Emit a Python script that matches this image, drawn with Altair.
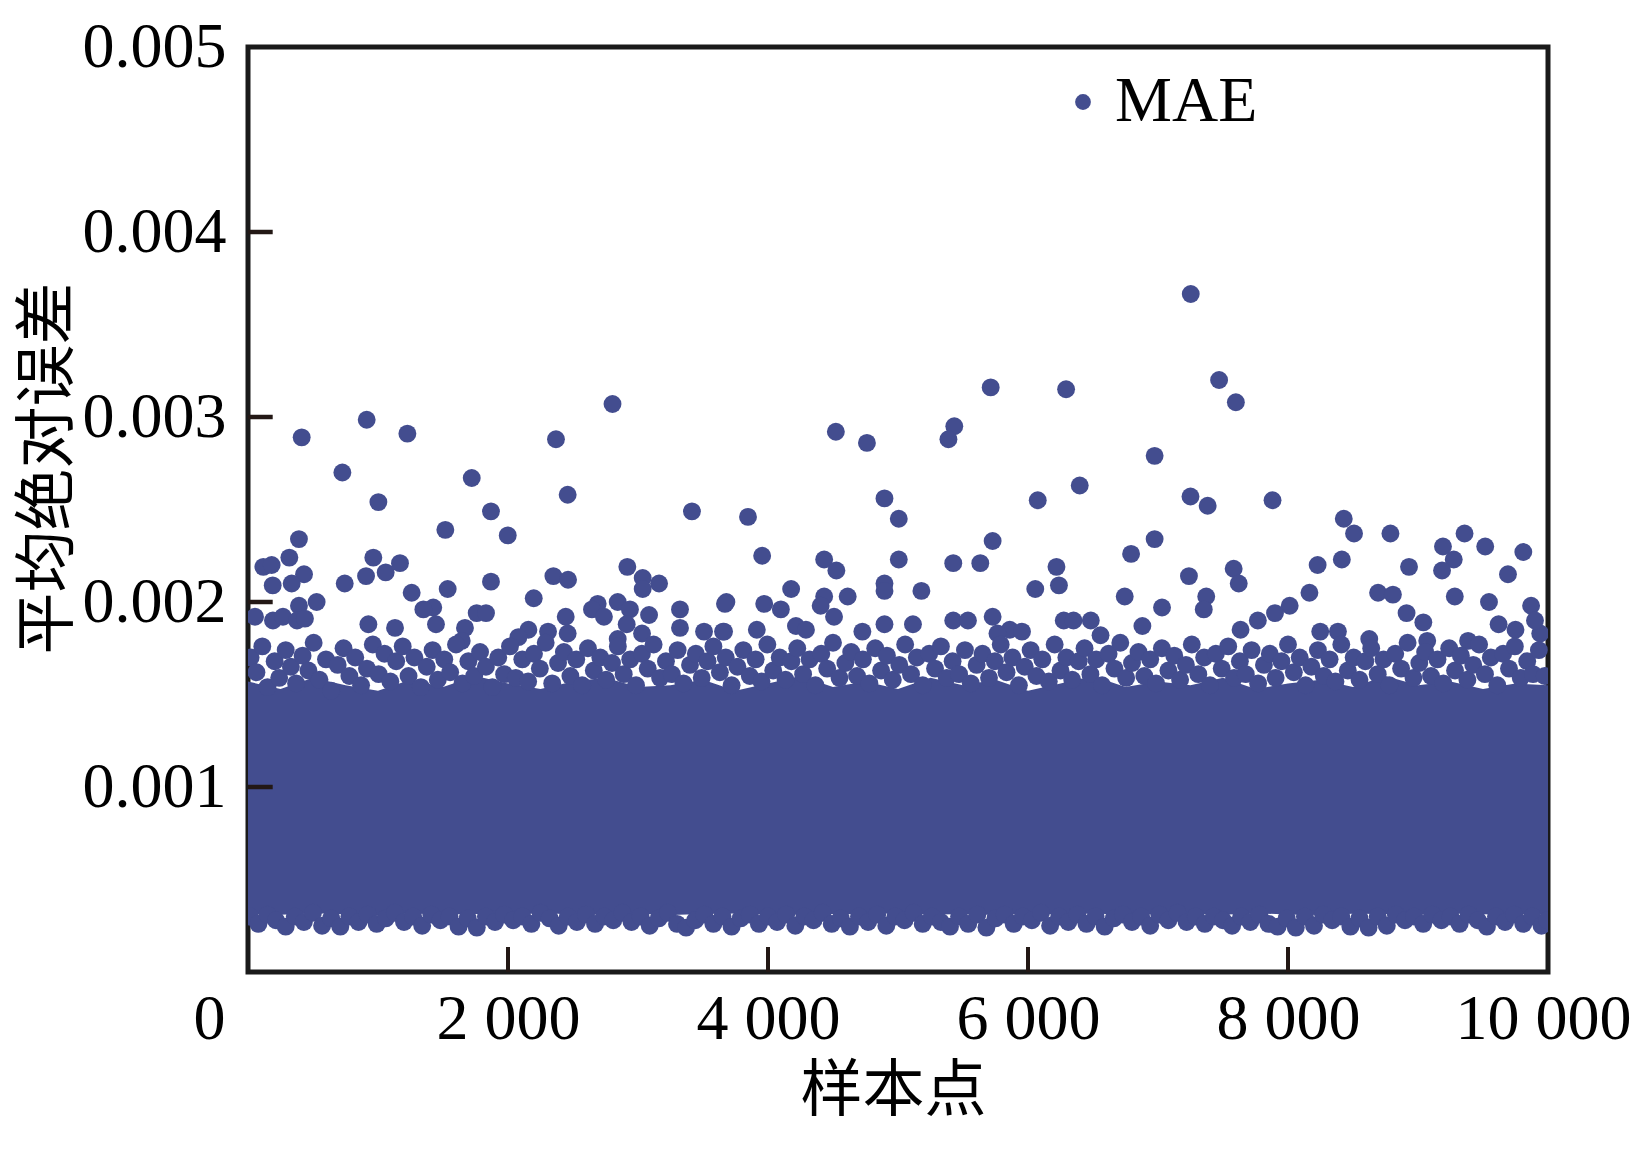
import altair as alt
import pandas as pd

BLUE = "#434D8F"
FRAME = "#1a1a1a"
TICK = "#231815"
SERIF = "Liberation Serif"
CJK = "Noto Sans CJK SC"

# ---- isolated points (sample index, MAE in 1e-6) ----
OUT_X = [7252, 7470, 7599, 5713, 6293, 2804, 913, 1226, 413, 2369, 4522, 4761, 5433, 5388, 6974,
         726, 1721, 6398, 2459, 1003, 4896, 6075, 7250, 7382, 7881, 5006, 1869, 3415, 3846, 8429,
         8508, 8788, 9358, 1518, 1998, 392, 6974, 5728, 9192, 9517, 9810, 318, 964, 3955, 6793,
         118, 182, 1169, 4432, 5006, 5425, 5633, 8414, 9275, 9185, 8931, 8228, 6219, 2918, 7582,
         4526, 1059, 431, 908, 2349, 7238, 3036, 2462, 1869, 190, 336, 744, 3162, 7621, 4896,
         6238, 3036, 1536, 6056, 4178, 5180, 4896, 1259, 8165, 8693, 8807, 9283, 6744, 7371, 4613,
         4432, 2198, 528, 3680, 9546, 2844, 2690, 3669, 3971, 392, 4405, 8013, 9870, 7031, 1425,
         1349, 3323, 2938, 2646, 4099, 7352, 1759, 1831, 8912, 7900, 3085, 54, 2738, 2444, 4508,
         5728, 9692, 9041, 926, 1446, 2913, 4896, 5115, 7768, 6483, 6275, 6350, 5425, 5538, 6880,
         4215, 1131, 1669, 3323, 2157, 3914, 7635, 5860, 4292, 3508, 3654, 2308, 3662, 4726, 5954,
         8248, 8384, 2459, 3031, 5765, 6558, 2080, 1644, 2844, 8625, 9071, 9385, 192, 269, 377,
         438, 9620, 9750, 9940, 9900]
OUT_Y = [3665, 3200, 3080, 3160, 3150, 3070, 2985, 2910, 2890, 2880, 2920, 2860, 2950, 2880, 2790,
         2700, 2670, 2630, 2580, 2540, 2560, 2550, 2570, 2520, 2550, 2450, 2490, 2490, 2460, 2450,
         2370, 2370, 2370, 2390, 2360, 2340, 2340, 2330, 2300, 2300, 2270, 2240, 2240, 2250, 2260,
         2190, 2200, 2210, 2230, 2230, 2210, 2210, 2230, 2230, 2170, 2190, 2200, 2190, 2190, 2180,
         2170, 2160, 2150, 2140, 2140, 2140, 2130, 2120, 2110, 2090, 2100, 2100, 2100, 2100, 2100,
         2090, 2070, 2070, 2070, 2070, 2060, 2060, 2050, 2050, 2050, 2040, 2030, 2030, 2030, 2030,
         2030, 2020, 2000, 2000, 2000, 2000, 1990, 1990, 1990, 1980, 1980, 1980, 1980, 1970, 1970,
         1960, 1960, 1960, 1960, 1960, 1960, 1940, 1940, 1940, 1940, 1930, 1920, 1920, 1920, 1920,
         1920, 2150, 1890, 1880, 1880, 1880, 1880, 1880, 1900, 1900, 1900, 1900, 1900, 1900, 1870,
         1870, 1860, 1860, 1860, 1850, 1850, 1850, 1850, 1850, 1840, 1840, 1840, 1840, 1840, 1840,
         1840, 1840, 1830, 1830, 1830, 1820, 1810, 1790, 1800, 1800, 1790, 1790, 1900, 1920, 1900,
         1910, 1880, 1850, 1830, 1900]

# ---- upper fringe of the dense band (estimated) ----
TOP_X = [20, 65, 110, 150, 205, 240, 290, 330, 370, 420, 465, 505, 550, 600, 640, 690, 735, 780, 825, 870,
         915, 960, 1005, 1050, 1095, 1140, 1190, 1235, 1280, 1330, 1375, 1420, 1460, 1510, 1555, 1600, 1650,
         1695, 1740, 1785, 1830, 1880, 1925, 1970, 2015, 2060, 2110, 2155, 2200, 2245, 2290, 2340, 2385,
         2430, 2480, 2525, 2570, 2615, 2660, 2710, 2755, 2800, 2845, 2890, 2940, 2985, 3030, 3075, 3120,
         3170, 3215, 3260, 3305, 3350, 3400, 3445, 3490, 3535, 3580, 3630, 3675, 3720, 3765, 3810, 3860,
         3905, 3950, 3995, 4040, 4090, 4135, 4180, 4225, 4270, 4320, 4365, 4410, 4455, 4500, 4550, 4595,
         4640, 4685, 4730, 4780, 4825, 4870, 4915, 4960, 5010, 5055, 5100, 5145, 5190, 5240, 5285, 5330,
         5375, 5420, 5470, 5515, 5560, 5605, 5650, 5700, 5745, 5790, 5835, 5880, 5930, 5975, 6020, 6065,
         6110, 6160, 6205, 6250, 6295, 6340, 6390, 6435, 6480, 6525, 6570, 6620, 6665, 6710, 6755, 6800,
         6850, 6895, 6940, 6985, 7030, 7080, 7125, 7170, 7215, 7260, 7310, 7355, 7400, 7445, 7490, 7540,
         7585, 7630, 7675, 7720, 7770, 7815, 7860, 7905, 7950, 8000, 8045, 8090, 8135, 8180, 8230, 8275,
         8320, 8365, 8410, 8460, 8505, 8550, 8595, 8640, 8690, 8735, 8780, 8825, 8870, 8920, 8965, 9010,
         9055, 9100, 9150, 9195, 9240, 9285, 9330, 9380, 9425, 9470, 9515, 9560, 9610, 9655, 9700, 9745,
         9790, 9840, 9885, 9930, 9975]
TOP_Y = [1700, 1620, 1760, 1540, 1680, 1590, 1740, 1650, 1560, 1710, 1630, 1780, 1580, 1690, 1520, 1660, 1750, 1600, 1700, 1550,
         1640, 1770, 1610, 1720, 1570, 1680, 1760, 1600, 1700, 1540, 1650, 1740, 1580, 1690, 1620, 1770, 1560,
         1680, 1600, 1730, 1650, 1540, 1700, 1610, 1760, 1590, 1690, 1570, 1720, 1640, 1780, 1560, 1670,
         1730, 1600, 1690, 1550, 1750, 1630, 1700, 1580, 1670, 1760, 1610, 1690, 1550, 1720, 1640, 1770,
         1590, 1680, 1610, 1740, 1560, 1660, 1720, 1590, 1680, 1760, 1620, 1700, 1550, 1650, 1740, 1600,
         1690, 1570, 1770, 1630, 1700, 1580, 1680, 1750, 1610, 1690, 1550, 1720, 1640, 1780, 1590, 1670,
         1730, 1600, 1690, 1560, 1750, 1630, 1710, 1580, 1660, 1770, 1610, 1700, 1550, 1720, 1640, 1760,
         1590, 1680, 1610, 1740, 1560, 1660, 1720, 1590, 1680, 1770, 1620, 1700, 1550, 1650, 1740, 1600,
         1690, 1570, 1770, 1630, 1700, 1580, 1680, 1750, 1610, 1690, 1550, 1720, 1640, 1780, 1590, 1670,
         1730, 1600, 1690, 1560, 1750, 1630, 1710, 1580, 1660, 1770, 1610, 1700, 1550, 1720, 1640, 1760,
         1590, 1680, 1610, 1740, 1560, 1660, 1720, 1590, 1680, 1770, 1620, 1700, 1550, 1650, 1740, 1600,
         1690, 1570, 1770, 1630, 1700, 1580, 1680, 1750, 1610, 1690, 1550, 1720, 1640, 1780, 1590, 1670,
         1730, 1600, 1690, 1560, 1750, 1630, 1710, 1580, 1660, 1770, 1610, 1700, 1550, 1720, 1640, 1760,
         1590, 1680, 1610, 1740, 1600]

# ---- lower fringe of the dense band (estimated) ----
LOW_X = [15, 80, 150, 215, 290, 360, 430, 500, 570, 640, 710, 780, 850, 920, 990, 1060, 1130, 1200, 1270,
         1340, 1410, 1480, 1550, 1620, 1690, 1760, 1830, 1900, 1970, 2040, 2110, 2180, 2250, 2320, 2390,
         2460, 2530, 2600, 2670, 2740, 2810, 2880, 2950, 3020, 3090, 3160, 3230, 3300, 3370, 3440, 3510,
         3580, 3650, 3720, 3790, 3860, 3930, 4000, 4070, 4140, 4210, 4280, 4350, 4420, 4490, 4560, 4630,
         4700, 4770, 4840, 4910, 4980, 5050, 5120, 5190, 5260, 5330, 5400, 5470, 5540, 5610, 5680, 5750,
         5820, 5890, 5960, 6030, 6100, 6170, 6240, 6310, 6380, 6450, 6520, 6590, 6660, 6730, 6800, 6870,
         6940, 7010, 7080, 7150, 7220, 7290, 7360, 7430, 7500, 7570, 7640, 7710, 7780, 7850, 7920, 7990,
         8060, 8130, 8200, 8270, 8340, 8410, 8480, 8550, 8620, 8690, 8760, 8830, 8900, 8970, 9040, 9110,
         9180, 9250, 9320, 9390, 9460, 9530, 9600, 9670, 9740, 9810, 9880, 9950, 9995]
LOW_Y = [300, 260, 310, 280, 245, 300, 270, 320, 250, 290, 245, 300, 270, 310, 260, 290, 320, 270, 300,
         250, 310, 280, 300, 245, 290, 240, 300, 270, 310, 280, 300, 260, 320, 290, 250, 300, 270, 310,
         260, 300, 280, 320, 270, 300, 250, 290, 320, 260, 240, 280, 310, 260, 300, 245, 290, 310, 260,
         300, 270, 310, 250, 300, 280, 320, 260, 290, 245, 300, 270, 310, 250, 300, 280, 320, 260, 300,
         270, 245, 300, 260, 310, 240, 290, 310, 260, 300, 280, 320, 250, 300, 270, 310, 260, 300, 245,
         290, 310, 270, 300, 250, 310, 280, 320, 270, 300, 260, 300, 280, 250, 300, 270, 310, 260, 245,
         290, 240, 300, 250, 310, 280, 300, 245, 290, 240, 300, 250, 310, 280, 300, 260, 310, 280, 300,
         260, 310, 280, 245, 300, 270, 310, 260, 300, 250, 280]

# ---- solid core of the band (envelope) ----
CORE_X = [0, 250, 500, 750, 1000, 1250, 1500, 1750, 2000, 2250, 2500, 2750, 3000, 3250, 3500, 3750,
          4000, 4250, 4500, 4750, 5000, 5250, 5500, 5750, 6000, 6250, 6500, 6750, 7000, 7250, 7500,
          7750, 8000, 8250, 8500, 8750, 9000, 9250, 9500, 9750, 10000]
CORE_LO = [315, 310, 318, 312, 308, 316, 311, 314, 309, 317, 312, 310, 315, 308, 313, 316, 311, 309, 314,
           312, 317, 310, 313, 308, 315, 311, 316, 309, 312, 314, 310, 317, 311, 308, 315, 313, 309, 316,
           312, 310, 314]
CORE_HI = [1570, 1530, 1590, 1550, 1520, 1580, 1540, 1600, 1560, 1530, 1570, 1590, 1540, 1550, 1580, 1520,
           1560, 1600, 1540, 1570, 1530, 1590, 1550, 1580, 1520, 1560, 1600, 1540, 1570, 1550, 1590, 1530,
           1560, 1580, 1540, 1600, 1550, 1570, 1530, 1560, 1550]

Y_TICKS = [0.001, 0.002, 0.003, 0.004, 0.005]
X_TICKS = [0, 2000, 4000, 6000, 8000, 10000]
Y_TICK_MARKS = [0.001, 0.002, 0.003, 0.004]
X_TICK_MARKS = [2000, 4000, 6000, 8000]

pts = pd.DataFrame({
    "x": OUT_X + TOP_X + LOW_X,
    "y": [v / 1e6 for v in OUT_Y + TOP_Y + LOW_Y],
})
pts["series"] = "MAE"
core = pd.DataFrame({"x": CORE_X, "lo": [v / 1e6 for v in CORE_LO], "hi": [v / 1e6 for v in CORE_HI]})

xs = alt.Scale(domain=[0, 10000], nice=False, zero=False)
ys = alt.Scale(domain=[0, 0.005], nice=False, zero=False)

x_axis = alt.Axis(
    values=X_TICKS, labelExpr="replace(format(datum.value, ','), ',', ' ')",
    ticks=False, domain=False, grid=False, labelFlush=False, labelOverlap=False,
    labelFont=SERIF, labelFontSize=64, labelColor="black", labelPadding=15,
    labelOffset={"condition": [{"test": "datum.value == 0", "value": -39},
                               {"test": "datum.value == 10000", "value": -5}], "value": 0},
    title="样本点", titleFont=CJK, titleFontSize=62, titleFontWeight="normal", titleColor="black",
    titleX=645, titleY=119, titleAlign="center", titleBaseline="middle",
)
y_axis = alt.Axis(
    values=Y_TICKS, format=".3f", ticks=False, domain=False, grid=False, labelFlush=False,
    labelFont=SERIF, labelFontSize=64, labelColor="black", labelPadding=22,
    title="平均绝对误差", titleFont=CJK, titleFontSize=62, titleFontWeight="normal", titleColor="black",
    titleX=-200, titleY=421, titleAngle=270, titleAlign="center", titleBaseline="middle",
)

band = alt.Chart(core).mark_area(color=BLUE, clip=True).encode(
    x=alt.X("x:Q", scale=xs, axis=x_axis),
    y=alt.Y("lo:Q", scale=ys, axis=y_axis),
    y2="hi:Q",
)

dots = alt.Chart(pts).mark_circle(size=320, opacity=1, clip=True).encode(
    x=alt.X("x:Q", scale=xs),
    y=alt.Y("y:Q", scale=ys),
    color=alt.Color(
        "series:N", scale=alt.Scale(range=[BLUE]),
        legend=alt.Legend(
            title=None, orient="none", legendX=803, legendY=23, padding=0,
            labelFont=SERIF, labelFontSize=64, labelColor="black", labelOffset=0,
            symbolType="circle", symbolSize=250, symbolStrokeWidth=0,
        ),
    ),
)

ytick = alt.Chart(pd.DataFrame({"v": Y_TICK_MARKS})).mark_rule(color=TICK, strokeWidth=4.5).encode(
    y=alt.Y("v:Q", scale=ys), x=alt.datum(0), x2=alt.datum(190)
)
xtick = alt.Chart(pd.DataFrame({"v": X_TICK_MARKS})).mark_rule(color=TICK, strokeWidth=4).encode(
    x=alt.X("v:Q", scale=xs), y=alt.datum(0), y2=alt.datum(0.000135)
)

chart = alt.layer(band, dots, ytick, xtick).properties(
    width=1300, height=925,
    autosize=alt.AutoSizeParams(type="none"),
    padding={"left": 240, "top": 39, "right": 86, "bottom": 170},
    background="white",
).configure_view(stroke=FRAME, strokeWidth=5)

chart.save("out.html", embed_options={"renderer": "svg", "actions": False})
